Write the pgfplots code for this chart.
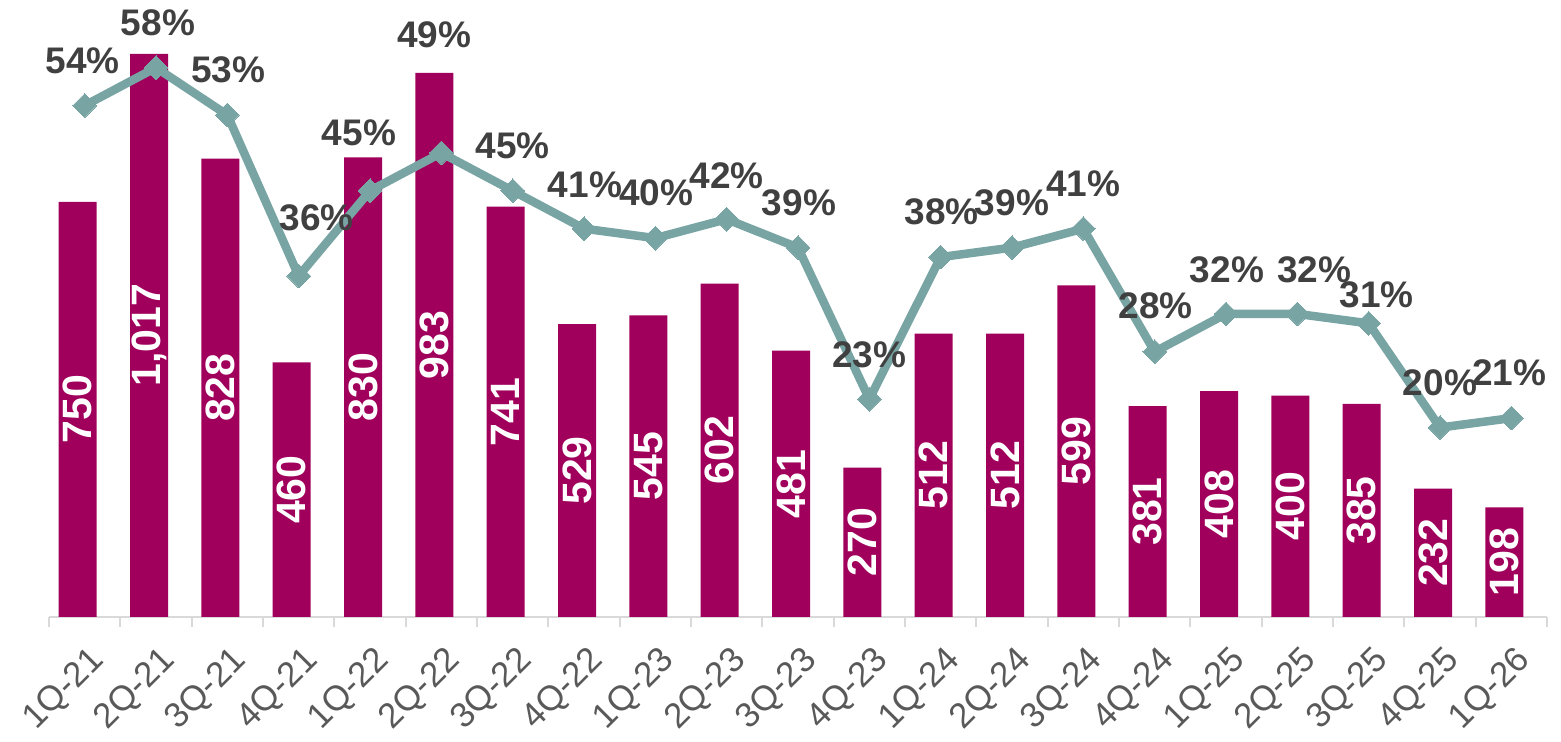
\documentclass[border=0pt]{standalone}
\usepackage{pgfplots}
\pgfplotsset{compat=1.18}
\usepackage{pgfplotstable}
\usepackage{fontspec}
\setmainfont{Liberation Sans}

\definecolor{barcol}{HTML}{A0005C}
\definecolor{linecol}{HTML}{78A4A4}
\definecolor{labcol}{HTML}{404040}
\definecolor{tickcol}{HTML}{595959}
\definecolor{axcol}{HTML}{D9D9D9}

% units = bars, pct = line; dx/dy = label offsets in pt
\pgfplotstableread{
x  lab    units pct dx    dy
0  1Q-21  750   54  -1    22.5
1  2Q-21  1017  58  1     22.5
2  3Q-21  828   53  0.5   22.5
3  4Q-21  460   36  9     29
4  1Q-22  830   45  -5.5  29
5  2Q-22  983   49  -3.5  59
6  3Q-22  741   45  0     22.5
7  4Q-22  529   41  0.5   22
8  1Q-23  545   40  0.5   22.5
9  2Q-23  602   42  0     21.5
10 3Q-23  481   39  0.5   22.5
11 4Q-23  270   23  0     22
12 1Q-24  512   38  0.5   22.5
13 2Q-24  512   39  0     22.5
14 3Q-24  599   41  0     22.5
15 4Q-24  381   28  0.5   23
16 1Q-25  408   32  0.5   22
17 2Q-25  400   32  8.5   22
18 3Q-25  385   31  4     14.5
19 4Q-25  232   20  0     22.5
20 1Q-26  198   21  -1    22.5
}\datatable

\begin{document}
\begin{tikzpicture}
\begin{axis}[
    name=ax,
    scale only axis,
    width=749pt, height=304.5pt,
    xmin=-0.5, xmax=20.5,
    ymin=0, ymax=1100,
    clip=false,
    axis x line*=bottom,
    axis y line=none,
    x axis line style={draw=axcol, line width=1pt, -},
    xtick={0,...,20},
    xticklabels from table={\datatable}{lab},
    minor xtick={-0.5,0.5,...,20.5},
    major tick length=0pt,
    minor tick length=5pt,
    tick align=outside,
    tick style={draw=axcol, line width=1pt},
    ytick=\empty,
    xticklabel style={xshift=1.5pt, yshift=-13.5pt, rotate=45,
        anchor=north east, inner sep=0pt, text=tickcol,
        font=\fontsize{17.5}{18}\selectfont},
]
\addplot[ybar, bar width=19pt, bar shift=-3.5pt, fill=barcol, draw=none]
    table[x=x, y=units]{\datatable};
\addplot[draw=none, mark=none,
    nodes near coords={\pgfmathprintnumber[assume math mode=true]{\pgfplotspointmeta}},
    point meta=\thisrow{units},
    every node near coord/.append style={xshift=-3.5pt, rotate=90, anchor=center,
        text=white, font=\bfseries\fontsize{20.5}{21}\selectfont}]
    table[x=x, y expr=\thisrow{units}/2]{\datatable};
\end{axis}

\begin{axis}[
    scale only axis,
    width=749pt, height=304.5pt,
    xmin=-0.5, xmax=20.5,
    ymin=0, ymax=64.3,
    clip=false,
    axis lines=none,
]
\addplot[color=linecol, line width=4.25pt, line join=round,
    mark=square*, mark size=4.2pt,
    mark options={rotate=45, fill=linecol, draw=linecol, line width=0pt},
    nodes near coords={\pgfmathprintnumber[assume math mode=true]{\pgfplotspointmeta}\%},
    point meta=\thisrow{pct},
    visualization depends on={\thisrow{dx}\as\labdx},
    visualization depends on={\thisrow{dy}\as\labdy},
    every node near coord/.append style={anchor=center,
        xshift=\labdx pt, yshift=\labdy pt, text=labcol,
        font=\bfseries\fontsize{18.5}{19}\selectfont}]
    table[x=x, y=pct]{\datatable};
\end{axis}

\pgfresetboundingbox
\path[use as bounding box] ([xshift=-24.5pt,yshift=-62.5pt]ax.south west)
    rectangle ([xshift=7pt,yshift=4pt]ax.north east);
\end{tikzpicture}
\end{document}
